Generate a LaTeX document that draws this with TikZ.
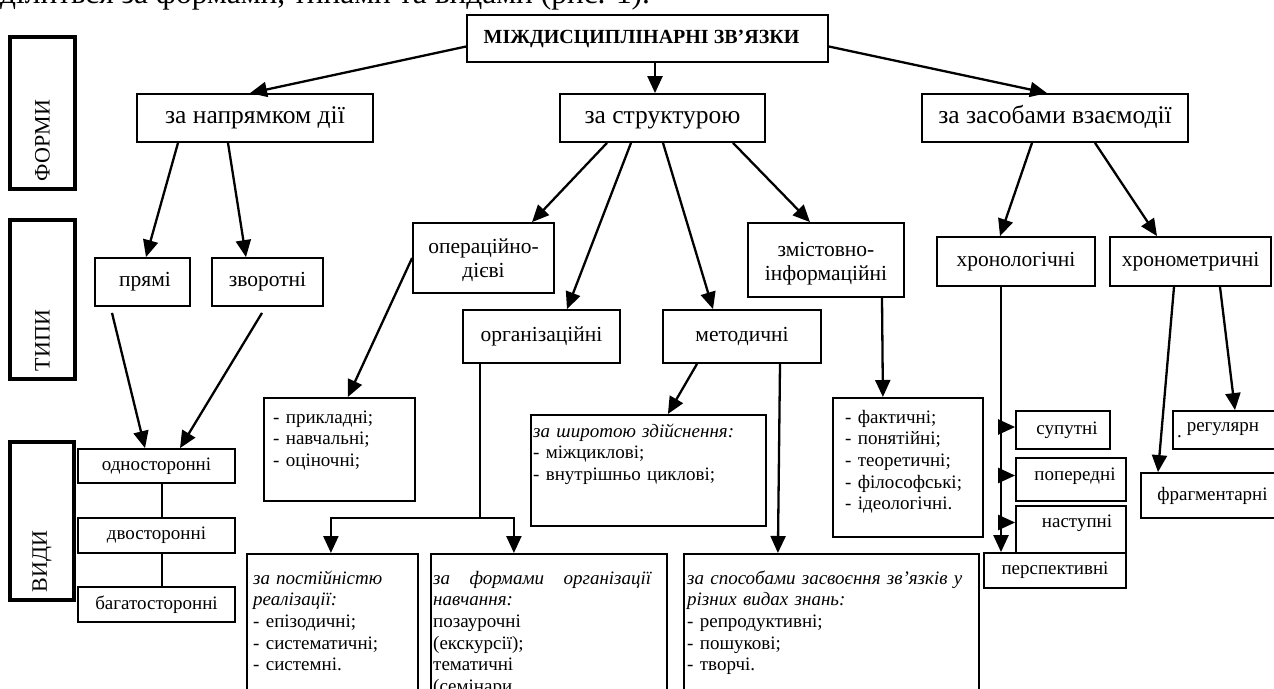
\documentclass[tikz,border=0pt]{standalone}
\usepackage{fontspec}
\setmainfont{Liberation Serif}
\usetikzlibrary{arrows.meta,calc}
\begin{document}
\begin{tikzpicture}[x=1pt,y=-1pt,
 box/.style={draw, line width=1.8pt, inner sep=2pt, align=center},
 lvlone/.style={box, font=\fontsize{25.5}{28}\selectfont, text height=18pt, text depth=6.5pt},
 lvltwo/.style={box, font=\fontsize{21.5}{24}\selectfont},
 smallbox/.style={box, font=\fontsize{19}{22}\selectfont},
 sidebox/.style={draw, line width=3.2pt, rotate=90, font=\fontsize{22}{26}\selectfont, align=left, inner xsep=8pt, inner ysep=0pt},
 ltext/.style={inner sep=0pt, align=left, font=\fontsize{19}{21.7}\selectfont, anchor=base west},
 arr/.style={line width=2.3pt, -{Triangle[length=17pt,width=15pt]}},
 conn/.style={line width=2.3pt},
 thinconn/.style={line width=1.7pt}]
\useasboundingbox (0,0) rectangle (1274,688);

% intro line (cut at the top)
\node[anchor=base west, inner sep=0pt, font=\fontsize{31.4}{33}\selectfont] (intro) at (0,4) {ділиться за формами, типами та видами (рис. 1).};

% side labels
\node[sidebox, text width=136pt, minimum height=65pt] (formy) at (42.5,113) {ФОРМИ};
\node[sidebox, text width=143pt, minimum height=65pt] (typy) at (42.5,299.5) {ТИПИ};
\node[sidebox, text width=142pt, minimum height=64pt] (vydy) at (42,521) {ВИДИ};

% title
\node[box, font=\fontsize{20}{22}\selectfont\bfseries, minimum width=361pt, minimum height=47pt] (title) at (647.5,38.5) {МІЖДИСЦИПЛІНАРНІ ЗВ’ЯЗКИ\hspace*{12pt}};

% forms
\node[lvlone, minimum width=236pt, minimum height=48pt] (napr) at (255,118) {за напрямком дії};
\node[lvlone, minimum width=205pt, minimum height=48pt] (strukt) at (662.5,118) {за структурою};
\node[lvlone, minimum width=266pt, minimum height=48pt] (zasob) at (1055,118) {за засобами взаємодії};

% types
\node[lvltwo, minimum width=95pt, minimum height=48pt] (pryami) at (142.5,282) {\hspace*{5pt}прямі};
\node[lvltwo, minimum width=111pt, minimum height=48pt] (zvor) at (267.5,282) {зворотні};
\node[lvltwo, minimum width=141pt, minimum height=70pt] (oper) at (483.5,258) {\rule{0pt}{19pt}операційно-\\дієві};
\node[lvltwo, minimum width=156pt, minimum height=74pt] (zmist) at (826,260) {\rule{0pt}{21pt}змістовно-\\інформаційні};
\node[lvltwo, minimum width=157pt, minimum height=53pt] (org) at (541.5,336.5) {організаційні};
\node[lvltwo, minimum width=158pt, minimum height=53pt] (metod) at (742,336.5) {методичні};
\node[lvltwo, minimum width=158pt, minimum height=49pt] (khronol) at (1016,261.5) {хронологічні};
\node[lvltwo, minimum width=161pt, minimum height=49pt] (khronom) at (1190.5,261.5) {хронометричні};

% kinds: left column
\node[smallbox, minimum width=157pt, minimum height=34pt] (odno) at (156.5,466) {односторонні};
\node[smallbox, minimum width=157pt, minimum height=35pt] (dvo) at (156.5,535.5) {двосторонні};
\node[smallbox, minimum width=157pt, minimum height=35pt] (bahato) at (156.5,604.5) {багатосторонні};

% list boxes
\node[box, minimum width=151pt, minimum height=103pt, anchor=north west] (prykl) at (263,397) {};
\node[ltext, text width=135pt] (pryklT) at (273,423) {- прикладні;\\- навчальні;\\- оціночні;};

\node[box, minimum width=235pt, minimum height=111pt, anchor=north west] (shyr) at (530,414) {};
\node[ltext, text width=228pt] (shyrT) at (533,437) {\textit{за широтою здійснення:}\\- міжциклові;\\- внутрішньо циклові;};

\node[box, minimum width=150pt, minimum height=139pt, anchor=north west] (fakt) at (832,397) {};
\node[ltext, text width=135pt] (faktT) at (845,423) {- фактичні;\\- понятійні;\\- теоретичні;\\- філософські;\\- ідеологічні.};

\node[box, minimum width=171pt, minimum height=160pt, anchor=north west] (post) at (246,553) {};
\node[ltext, text width=157pt] (postT) at (253,584) {\textit{за\hspace{6pt}постійністю}\\\textit{реалізації:}\\- епізодичні;\\- систематичні;\\- системні.};

\node[box, minimum width=236pt, minimum height=160pt, anchor=north west] (form) at (430,553) {};
\node[ltext, text width=230pt] (formT) at (433,584) {\makebox[218pt][l]{\itshape за\hfill формами\hfill організації}\\\textit{навчання:}\\позаурочні\\(екскурсії);\\тематичні\\(семінари,};

\node[box, minimum width=295pt, minimum height=160pt, anchor=north west] (sposob) at (683,553) {};
\node[ltext, text width=287pt] (sposobT) at (687,584) {\makebox[275pt][l]{\itshape за\hfill способами\hfill засвоєння\hfill зв’язків\hfill у}\\\textit{різних видах знань:}\\- репродуктивні;\\- пошукові;\\- творчі.};

% chronological kinds
\node[smallbox, minimum width=94pt, minimum height=38pt] (suput) at (1063,430) {\hspace*{8pt}супутні};
\node[smallbox, minimum width=110pt, minimum height=43pt, text depth=10pt] (poper) at (1071,479.5) {\hspace*{8pt}попередні};
\node[smallbox, minimum width=110pt, minimum height=47pt, text depth=16pt] (nastup) at (1071,529.5) {\hspace*{12pt}наступні};
\node[smallbox, minimum width=142pt, minimum height=35pt] (persp) at (1055,570.5) {перспективні};

% chronometric kinds
\node[smallbox, text width=109pt, inner xsep=4pt, minimum height=38pt, align=left] (rehul) at (1231.5,430) {\raisebox{-6pt}{.}\hspace{5pt}регулярн};
\node[smallbox, minimum width=149pt, minimum height=45pt] (fragm) at (1215.5,495.5) {фрагментарні\hspace*{6pt}};

% connectors from title
\draw[arr] ([yshift=-8pt]title.west) -- ([xshift=-5pt]napr.north);
\draw[arr] ([xshift=7.5pt]title.south) -- ([xshift=-7.5pt]strukt.north);
\draw[arr] ([yshift=-8pt]title.east) -- ([xshift=-8pt]zasob.north);

% from forms
\draw[arr] ([xshift=-77pt]napr.south) -- ([xshift=3.5pt]pryami.north);
\draw[arr] ([xshift=-27pt]napr.south) -- ([xshift=-21.5pt]zvor.north);
\draw[arr] ([xshift=-55.5pt]strukt.south) -- ([xshift=48.5pt]oper.north);
\draw[arr] ([xshift=-31.5pt]strukt.south) -- ([xshift=25.5pt]org.north);
\draw[arr] ([xshift=0.5pt]strukt.south) -- ([xshift=-29pt]metod.north);
\draw[arr] ([xshift=70.5pt]strukt.south) -- ([xshift=-16pt]zmist.north);
\draw[arr] ([xshift=-23pt]zasob.south) -- ([xshift=-16pt]khronol.north);
\draw[arr] ([xshift=40pt]zasob.south) -- ([xshift=-33.5pt]khronom.north);

% from types
\draw[arr] ([xshift=-30.5pt,yshift=-6pt]pryami.south) -- ([xshift=-11.5pt]odno.north);
\draw[arr] ([xshift=-5.5pt,yshift=-6pt]zvor.south) -- ([xshift=23.5pt]odno.north);
\draw[thinconn] ([xshift=5.5pt]odno.south) -- ([xshift=5.5pt]dvo.north);
\draw[thinconn] ([xshift=5.5pt]dvo.south) -- ([xshift=5.5pt]bahato.north);
\draw[arr] (oper.west) -- ([xshift=8.5pt]prykl.north);

\coordinate (orgj) at (480,518);
\draw[conn] ([xshift=-61.5pt]org.south) -- (orgj);
\draw[arr] (orgj) -| ([xshift=-1.5pt]post.north);
\draw[arr] (orgj) -| ([xshift=-35pt]form.north);

\draw[arr] ([xshift=-45pt]metod.south) -- ([xshift=19.5pt]shyr.north);
\draw[arr] ([xshift=38pt]metod.south) -- ([xshift=-53.5pt]sposob.north);
\draw[arr] ([xshift=56pt]zmist.south) -- ([xshift=-25pt]fakt.north);

\draw[arr] ([xshift=-15pt]khronol.south) -- ([xshift=-54pt]persp.north);
\coordinate (vl) at (1001,300);
\draw[arr] ($(vl |- suput.west)+(0,-3)$) -- ($(suput.west)+(0,-3)$);
\draw[arr] ($(vl |- poper.west)+(0,-4)$) -- ($(poper.west)+(0,-4)$);
\draw[arr] ($(vl |- nastup.west)+(0,-7)$) -- ($(nastup.west)+(0,-7)$);

\draw[arr] ([xshift=-16.5pt]khronom.south) -- ([xshift=-57.5pt]fragm.north);
\draw[arr] ([xshift=29.5pt]khronom.south) -- ([xshift=3.5pt]rehul.north);
\end{tikzpicture}
\end{document}
